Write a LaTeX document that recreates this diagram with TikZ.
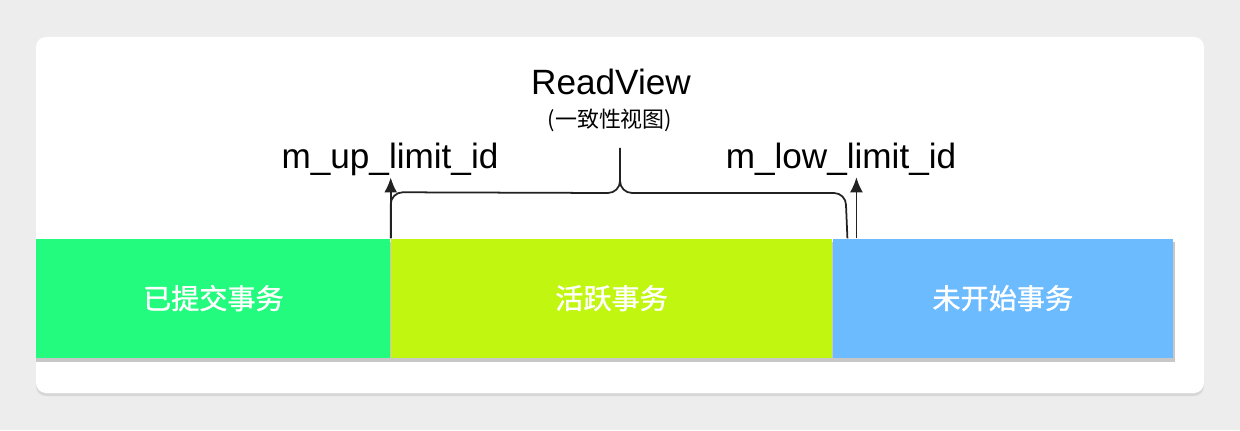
\documentclass[tikz,border=0pt]{standalone}
\usepackage{fontspec}
\setmainfont{Liberation Sans}
\newfontfamily\cjk{Noto Sans CJK SC}
\newfontfamily\cjkbar[FakeBold=1.2]{Noto Sans CJK SC}
\usetikzlibrary{positioning,shadows,arrows.meta}
\definecolor{pagegray}{HTML}{EDEDED}
\definecolor{donegreen}{HTML}{22FB7D}
\definecolor{activelime}{HTML}{C0F610}
\definecolor{waitblue}{HTML}{6DBBFF}
\definecolor{inkgray}{HTML}{222222}
\tikzset{
  bar/.style={minimum height=2.38cm, inner sep=0pt, text=white,
    font=\cjkbar\fontsize{16}{19}\selectfont},
  idlabel/.style={font=\fontsize{20}{24}\selectfont, inner sep=1pt},
  pointer/.style={-{Latex[length=0.3cm,width=0.26cm]}, line width=1pt, draw=inkgray},
}
\begin{document}
\begin{tikzpicture}[x=1cm,y=1cm]
\fill[pagegray] (0,0) rectangle (24.8,8.6);
\useasboundingbox (0,0) rectangle (24.8,8.6);
\fill[white, rounded corners=0.2cm,
  drop shadow={shadow xshift=0cm, shadow yshift=-0.06cm, opacity=0.2}]
  (0.72,0.74) rectangle (24.08,7.86);

% bar shadow
\fill[black!22] (0.72,1.36) rectangle (23.5,3.76);

% the three kinds of transactions
\node[bar, fill=donegreen, minimum width=7.08cm, anchor=south west] (done) at (0.72,1.44) {已提交事务};
\node[bar, fill=activelime, minimum width=8.82cm, right=0pt of done] (active) {活跃事务};
\node[bar, fill=waitblue, minimum width=6.8cm, right=0pt of active] (waiting) {未开始事务};

% titles
\node[font=\fontsize{20}{24}\selectfont] (title) at (12.22,6.96) {ReadView};
\node[font=\cjk\fontsize{12.5}{15}\selectfont] (subtitle) at (12.2,6.2) {(一致性视图)};
\node[idlabel] (upid) at (7.8,5.42) {m\_up\_limit\_id};
\node[idlabel] (lowid) at (16.82,5.42) {m\_low\_limit\_id};

% brace over the active part
\coordinate (bracetip) at (12.4,5.64);
\coordinate (braceend) at ([xshift=0.3cm]active.north east);
\draw[line width=1pt, draw=inkgray]
  (done.north east) -- ++(0,0.68) arc[start angle=180,end angle=90,radius=0.24]
  -- (12.16,4.74) arc[start angle=-90,end angle=0,radius=0.24] -- (bracetip);
\draw[line width=1pt, draw=inkgray]
  (12.4,4.98) arc[start angle=180,end angle=270,radius=0.24]
  -- (16.68,4.74) arc[start angle=90,end angle=0,radius=0.24] -- (braceend);

% limit pointers
\coordinate (lowfoot) at ([xshift=0.48cm]waiting.north west);
\draw[pointer] (done.north east) -- (done.north east |- upid.south);
\draw[pointer] (lowfoot) -- (lowfoot |- lowid.south);
\end{tikzpicture}
\end{document}
